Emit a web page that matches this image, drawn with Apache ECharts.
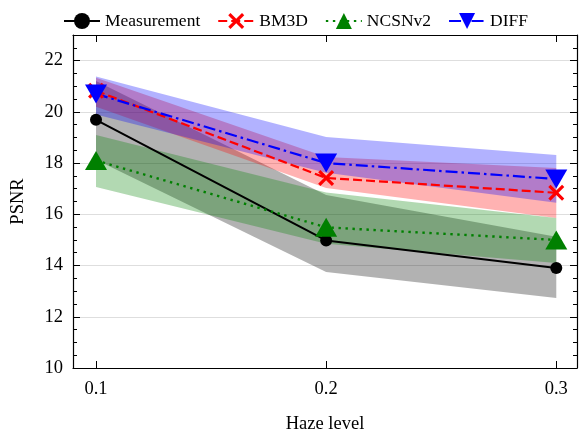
<!DOCTYPE html>
<html>
<head>
<meta charset="utf-8">
<script src="https://cdn.jsdelivr.net/npm/echarts@6/dist/echarts.min.js"></script>
<style>html,body{margin:0;padding:0;background:#fff}#c{width:579px;height:434px}</style>
</head>
<body>
<div id="c"></div>
<script>
// ---- data ----
const haze = [0.1, 0.2, 0.3];
const seriesNames = ['Measurement', 'BM3D', 'NCSNv2', 'DIFF'];
const measurement = [19.69, 14.98, 13.90];
const measurementLow = [18.13, 13.75, 12.73];
const measurementHigh = [21.20, 16.75, 15.12];
const bm3d = [20.82, 17.42, 16.84];
const bm3dLow = [20.20, 17.03, 15.86];
const bm3dHigh = [21.33, 18.24, 17.81];
const ncsn = [18.10, 15.49, 15.00];
const ncsnLow = [17.07, 14.85, 14.10];
const ncsnHigh = [19.10, 16.85, 15.86];
const diff = [20.70, 18.00, 17.38];
const diffLow = [19.90, 17.62, 16.45];
const diffHigh = [21.38, 19.02, 18.32];
const xTicks = [0.1, 0.2, 0.3];

const FONT = 'Liberation Serif';
const pairs = (ys) => haze.map((x, i) => [x, ys[i]]);

function band(low, high, fill) {
  return {
    type: 'custom', silent: true, z: 1, data: [0],
    renderItem: function (params, api) {
      const pts = [];
      for (let i = 0; i < haze.length; i++) pts.push(api.coord([haze[i], high[i]]));
      for (let i = haze.length - 1; i >= 0; i--) pts.push(api.coord([haze[i], low[i]]));
      return { type: 'polygon', shape: { points: pts }, style: { fill: fill } };
    }
  };
}

const xPath = 'path://M0,1.4L1.4,0L5,3.6L8.6,0L10,1.4L6.4,5L10,8.6L8.6,10L5,6.4L1.4,10L0,8.6L3.6,5Z';

function yAxisPair(pos, showLabel) {
  return [
    { type: 'value', position: pos, min: 10, max: 23, interval: 2,
      axisLine: { show: true, onZero: false, lineStyle: { color: '#000', width: 1.2 } },
      axisTick: { show: true, inside: true, length: 7, lineStyle: { color: '#000', width: 1 } },
      axisLabel: { show: showLabel, fontFamily: FONT, fontSize: 18.5, color: '#000', margin: 10,
        formatter: v => (v === 23 ? '' : String(v)) },
      splitLine: { show: showLabel, lineStyle: { color: '#dedede', width: 1 } },
      name: showLabel ? 'PSNR' : '', nameLocation: 'middle', nameGap: 45, nameRotate: 90,
      nameTextStyle: { fontFamily: FONT, fontSize: 18.5, color: '#000' } },
    { type: 'value', position: pos, min: 10, max: 23, interval: 0.5,
      axisLine: { show: false },
      axisTick: { show: true, inside: true, length: 4, lineStyle: { color: '#000', width: 1 } },
      axisLabel: { show: false }, splitLine: { show: false } }
  ];
}

const option = {
  animation: false,
  backgroundColor: '#fff',
  grid: { left: 73, right: 2, top: 35, bottom: 66, containLabel: false, outerBoundsMode: 'none' },
  legend: {
    data: seriesNames, left: 58, top: 7, itemWidth: 36, itemHeight: 20, itemGap: 17,
    textStyle: { fontFamily: FONT, fontSize: 17.5, color: '#000' }
  },
  xAxis: [
    { type: 'value', position: 'bottom', min: 0.09, max: 0.309,
      axisLine: { show: true, onZero: false, lineStyle: { color: '#000', width: 1.2 } },
      axisTick: { show: true, inside: true, length: 7, customValues: xTicks, lineStyle: { color: '#000', width: 1 } },
      axisLabel: { fontFamily: FONT, fontSize: 18.5, color: '#000', margin: 12, customValues: xTicks,
        formatter: v => v.toFixed(1) },
      splitLine: { show: false },
      name: 'Haze level', nameLocation: 'middle', nameGap: 47,
      nameTextStyle: { fontFamily: FONT, fontSize: 18.5, color: '#000' } },
    { type: 'value', position: 'top', min: 0.09, max: 0.309,
      axisLine: { show: true, onZero: false, lineStyle: { color: '#000', width: 1.2 } },
      axisTick: { show: true, inside: true, length: 7, customValues: xTicks, lineStyle: { color: '#000', width: 1 } },
      axisLabel: { show: false }, splitLine: { show: false } }
  ],
  yAxis: [].concat(yAxisPair('left', true), yAxisPair('right', false)),
  series: [
    band(measurementLow, measurementHigh, 'rgba(0,0,0,0.3)'),
    band(bm3dLow, bm3dHigh, 'rgba(255,0,0,0.3)'),
    band(ncsnLow, ncsnHigh, 'rgba(0,128,0,0.3)'),
    band(diffLow, diffHigh, 'rgba(0,0,255,0.3)'),
    { name: 'Measurement', type: 'line', z: 5, data: pairs(measurement),
      symbol: 'circle', symbolSize: 12, color: '#000',
      lineStyle: { color: '#000', width: 2, type: 'solid' }, itemStyle: { color: '#000' } },
    { name: 'BM3D', type: 'line', z: 5, data: pairs(bm3d),
      symbol: xPath, symbolSize: 16, color: '#ff0000',
      lineStyle: { color: '#ff0000', width: 2.2, type: [9, 4] }, itemStyle: { color: '#ff0000' } },
    { name: 'NCSNv2', type: 'line', z: 5, data: pairs(ncsn),
      symbol: 'triangle', symbolSize: [22, 19], color: '#008000',
      lineStyle: { color: '#008000', width: 2.4, type: [2.4, 4.6] }, itemStyle: { color: '#008000' } },
    { name: 'DIFF', type: 'line', z: 5, data: pairs(diff),
      symbol: 'triangle', symbolRotate: 180, symbolSize: [22, 19], color: '#0000ff',
      lineStyle: { color: '#0000ff', width: 2.2, type: [12, 4, 2.5, 4] }, itemStyle: { color: '#0000ff' } }
  ]
};

const chart = echarts.init(document.getElementById('c'), null, { renderer: 'canvas' });
chart.setOption(option);
</script>
</body>
</html>
